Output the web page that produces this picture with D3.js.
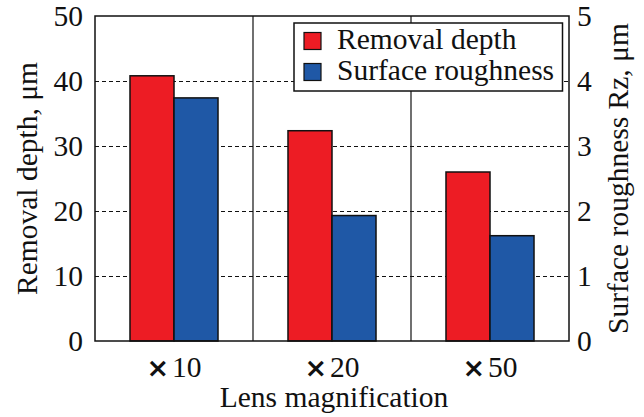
<!DOCTYPE html>
<html>
<head>
<meta charset="utf-8">
<script src="https://cdn.jsdelivr.net/npm/d3@7"></script>
<style>
  body { margin: 0; background: #fff; }
  text { font-family: "Liberation Serif", "Times New Roman", serif; fill: #111; }
</style>
</head>
<body>
<div id="chart"></div>
<script>
///////////////////////////////////////////////////////// Set-Up /////////////////////////////////////////////////////////
const W = 644, H = 417;
const margin = {left: 95, top: 16, right: 75, bottom: 76},
    width = W - margin.left - margin.right,
    height = H - margin.top - margin.bottom;

const magnifications = ["10", "20", "50"];
const seriesNames = ["Removal depth", "Surface roughness"];
const removalDepth = [40.8, 32.35, 26.0];        // µm, left axis
const surfaceRoughness = [3.74, 1.93, 1.62];     // Rz µm, right axis
const leftTicks = [0, 10, 20, 30, 40, 50];
const rightTicks = [0, 1, 2, 3, 4, 5];

const colors = ["#ed1c24", "#1f58a6"];
const fontSize = 29.5;

////////////////////////////////////////////////// Scales //////////////////////////////////////////////////
const x = d3.scaleBand()
    .domain(magnifications)
    .range([0, width])
    .padding(0);

const xSub = d3.scaleBand()
    .domain(seriesNames)
    .range([0, x.bandwidth()])
    .paddingInner(0)
    .paddingOuter(0.795);

const yLeft = d3.scaleLinear().domain([0, 50]).range([height, 0]);
const yRight = d3.scaleLinear().domain([0, 5]).range([height, 0]);

// one row per bar, each series on its own axis
const bars = [];
magnifications.forEach(function(m, i) {
  bars.push({cat: m, s: seriesNames[0], y: yLeft(removalDepth[i]), color: colors[0]});
  bars.push({cat: m, s: seriesNames[1], y: yRight(surfaceRoughness[i]), color: colors[1]});
});

////////////////////////////////////////////////// SVG //////////////////////////////////////////////////
const svg = d3.select("#chart")
  .append("svg")
    .attr("width", W)
    .attr("height", H)
  .append("g")
    .attr("transform", "translate(" + margin.left + "," + margin.top + ")");

// dashed grid
svg.append("g")
    .attr("class", "grid")
    .call(d3.axisLeft(yLeft).tickValues([10, 20, 30, 40]).tickSize(-width).tickFormat(""))
    .call(g => g.select(".domain").remove())
    .selectAll("line")
    .attr("stroke", "#111")
    .attr("stroke-width", 1.2)
    .attr("stroke-dasharray", "4,3");

// category separators
svg.append("g")
  .selectAll("line")
  .data(magnifications.slice(1))
  .enter().append("line")
    .attr("x1", d => x(d)).attr("x2", d => x(d))
    .attr("y1", 0).attr("y2", height)
    .attr("stroke", "#111")
    .attr("stroke-width", 1.2);

// bars
svg.append("g")
  .selectAll("rect")
  .data(bars)
  .enter().append("rect")
    .attr("x", d => x(d.cat) + xSub(d.s))
    .attr("y", d => d.y)
    .attr("width", xSub.bandwidth())
    .attr("height", d => height - d.y)
    .attr("fill", d => d.color)
    .attr("stroke", "#111")
    .attr("stroke-width", 1.5);

// frame
svg.append("rect")
    .attr("width", width)
    .attr("height", height)
    .attr("fill", "none")
    .attr("stroke", "#111")
    .attr("stroke-width", 1.5);

////////////////////////////////////////////////// Axes //////////////////////////////////////////////////
svg.append("g")
    .call(d3.axisLeft(yLeft).tickValues(leftTicks).tickSize(0).tickPadding(12).tickFormat(d3.format("d")))
    .call(g => g.select(".domain").remove())
    .selectAll("text")
    .style("font-size", fontSize + "px")
    .attr("font-family", null);

svg.append("g")
    .attr("transform", "translate(" + width + ",0)")
    .call(d3.axisRight(yRight).tickValues(rightTicks).tickSize(0).tickPadding(8).tickFormat(d3.format("d")))
    .call(g => g.select(".domain").remove())
    .selectAll("text")
    .style("font-size", fontSize + "px")
    .attr("font-family", null);

const xAxis = svg.append("g")
    .attr("transform", "translate(0," + height + ")")
    .call(d3.axisBottom(x).tickSize(0).tickPadding(15))
    .call(g => g.select(".domain").remove());

xAxis.selectAll("text")
    .attr("font-family", null)
    .style("font-size", fontSize + "px")
    .each(function(d) {
      const t = d3.select(this).text("");
      t.append("tspan")
        .style("font-family", "'DejaVu Sans', sans-serif")
        .style("font-weight", "bold")
        .style("font-size", "27px")
        .text("\u00d7");
      t.append("tspan").attr("dx", 3).text(d);
    });

// axis titles
svg.append("text")
    .attr("x", width / 2 + 2)
    .attr("y", height + 66)
    .attr("text-anchor", "middle")
    .style("font-size", fontSize + "px")
    .text("Lens magnification");

svg.append("text")
    .attr("transform", "translate(" + (37 - margin.left) + "," + (height / 2) + ") rotate(-90)")
    .attr("text-anchor", "middle")
    .style("font-size", fontSize + "px")
    .text("Removal depth, \u03bcm");

svg.append("text")
    .attr("transform", "translate(" + (628 - margin.left) + "," + (height / 2) + ") rotate(-90)")
    .attr("text-anchor", "middle")
    .style("font-size", fontSize + "px")
    .text("Surface roughness Rz, \u03bcm");

////////////////////////////////////////////////// Legend //////////////////////////////////////////////////
const legend = svg.append("g")
    .attr("transform", "translate(" + (294 - margin.left) + "," + (23 - margin.top) + ")");

legend.append("rect")
    .attr("width", 268.5)
    .attr("height", 68)
    .attr("fill", "#fff")
    .attr("stroke", "#111")
    .attr("stroke-width", 1.5);

const items = legend.selectAll("g.item")
  .data(seriesNames)
  .enter().append("g")
    .attr("class", "item")
    .attr("transform", (d, i) => "translate(0," + (i * 31) + ")");

items.append("rect")
    .attr("x", 10)
    .attr("y", 9.5)
    .attr("width", 17)
    .attr("height", 17)
    .attr("fill", (d, i) => colors[i])
    .attr("stroke", "#111")
    .attr("stroke-width", 1.2);

items.append("text")
    .attr("x", 43)
    .attr("y", 25.5)
    .style("font-size", fontSize + "px")
    .text(d => d);
</script>
</body>
</html>
